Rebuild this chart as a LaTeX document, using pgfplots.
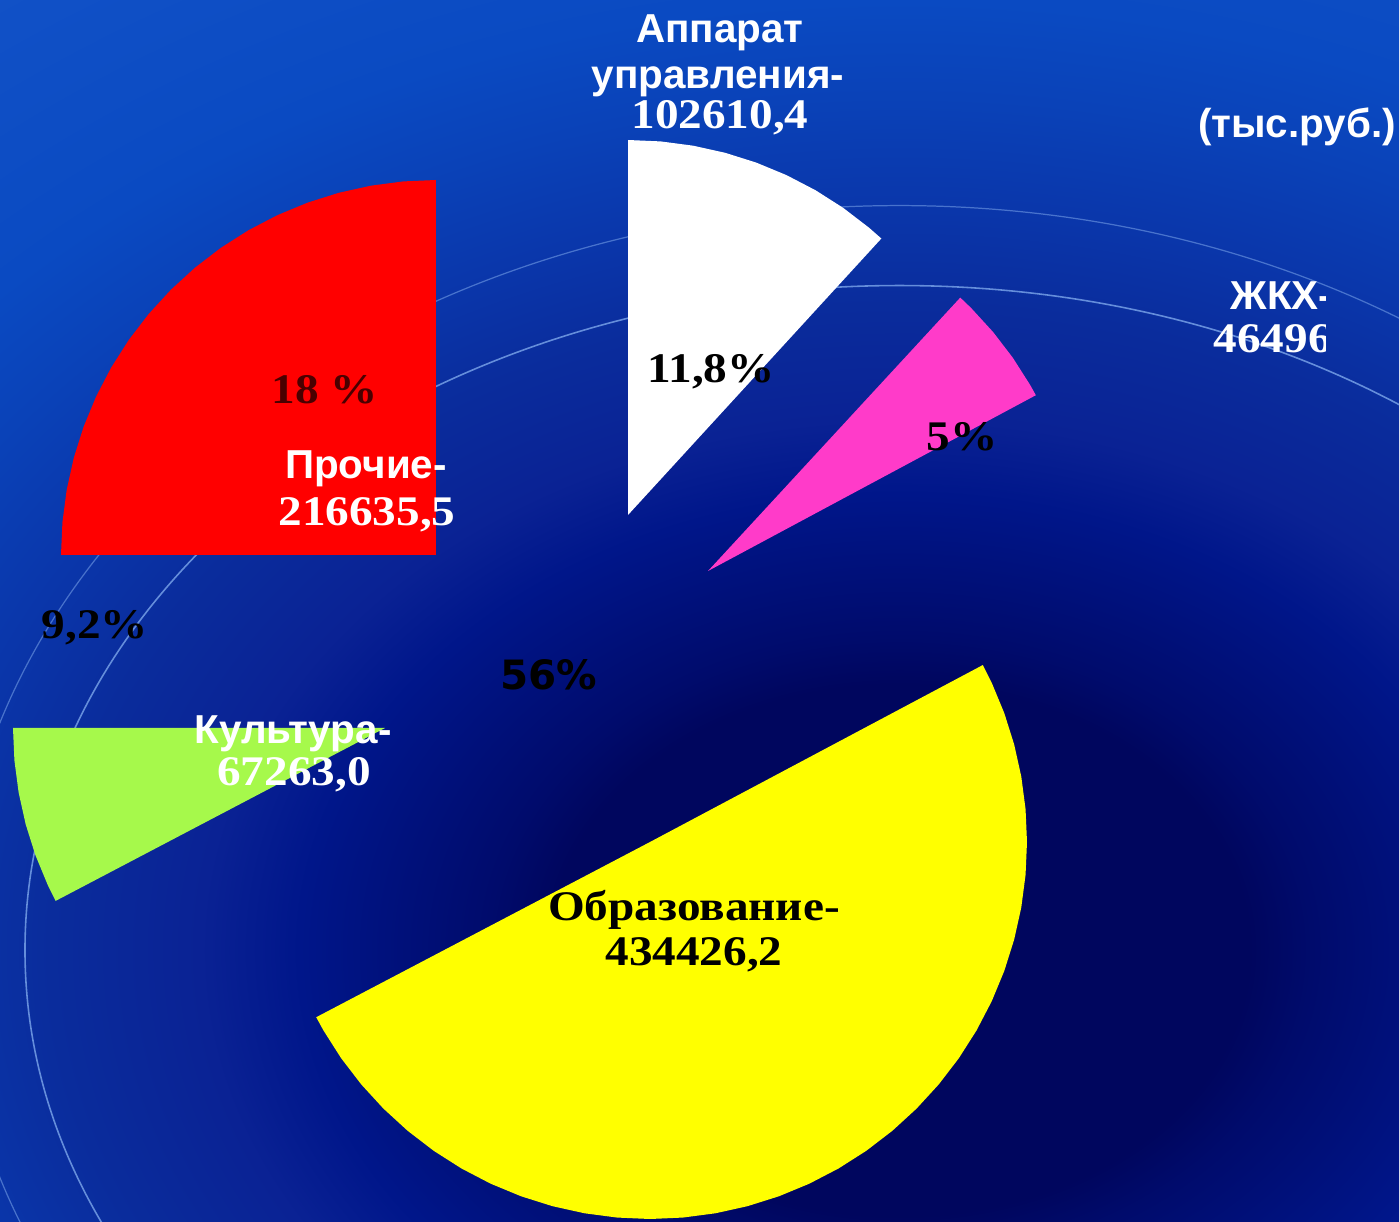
\documentclass[border=0pt]{standalone}
\usepackage{pgfplots}
\pgfplotsset{compat=1.18}
\usepgfplotslibrary{polar}
\usepackage{fontspec}
\setmainfont{Liberation Sans}
\newfontfamily\lsans{Liberation Sans}
\newfontfamily\dsans{DejaVu Sans}
\newfontfamily\lserif[FakeStretch=1.12]{Liberation Serif}

\definecolor{b0}{HTML}{00065E}
\definecolor{b1}{HTML}{000B6C}
\definecolor{b2}{HTML}{00168A}
\definecolor{b3}{HTML}{0A2294}
\definecolor{b4}{HTML}{0A2C9C}
\definecolor{b5}{HTML}{0A36AA}
\definecolor{b6}{HTML}{0A42B8}
\definecolor{b7}{HTML}{0A4AC2}
\definecolor{b8}{HTML}{1656CA}
\definecolor{pieYellow}{HTML}{FFFF00}
\definecolor{piePink}{HTML}{FF3BC9}
\definecolor{pieWhite}{HTML}{FFFFFF}
\definecolor{pieRed}{HTML}{FF0000}
\definecolor{pieGreen}{HTML}{A6F94B}
\definecolor{darkred}{HTML}{4A0000}
\definecolor{thinline}{HTML}{7CA6EA}

\pgfdeclareradialshading{bgshade}{\pgfpoint{0bp}{0bp}}{%
 color(0bp)=(b0); color(7bp)=(b0); color(8.25bp)=(b1); color(12bp)=(b2);
 color(14bp)=(b3); color(17bp)=(b4); color(19.5bp)=(b5); color(22.5bp)=(b6);
 color(25bp)=(b7); color(35.25bp)=(b8); color(71bp)=(b8)}

\tikzset{
 sanslab/.style={font=\fontsize{11.5}{13}\selectfont\lsans\bfseries, inner sep=0pt, anchor=base},
 seriflab/.style={font=\fontsize{12}{14}\selectfont\lserif\bfseries, inner sep=0pt, anchor=base},
}
\pgfplotsset{slice/.style={anchor=origin, width=7.5cm, height=7.5cm, scale only axis,
   xmin=0, xmax=360, ymin=0, ymax=1, hide axis, clip=false}}

\begin{document}
\begin{tikzpicture}
\useasboundingbox (0,0) rectangle (14cm,12.21cm);
% background
\begin{scope}[x=0.01cm,y=0.01cm]
 \clip (0,0) rectangle (1400,1221);
 \shade[shading=bgshade] (-350,-679) rectangle (2150,1221);
 \draw[thinline, line width=0.45pt, opacity=0.8] (900,271) ellipse [x radius=875, y radius=665];
 \draw[thinline, line width=0.35pt, opacity=0.55] (900,271) ellipse [x radius=945, y radius=745];
\end{scope}

% Образование
\begin{polaraxis}[slice, at={(6.50cm,3.79cm)}, width=7.54cm, height=7.54cm]
\addplot[draw=none, fill=pieYellow] coordinates {(0,0) (207.7,1) (210,1) (215,1) (220,1) (225,1) (230,1) (235,1) (240,1) (245,1) (250,1) (255,1) (260,1) (265,1) (270,1) (275,1) (280,1) (285,1) (290,1) (295,1) (300,1) (305,1) (310,1) (315,1) (320,1) (325,1) (330,1) (335,1) (340,1) (345,1) (350,1) (355,1) (360,1) (365,1) (370,1) (375,1) (380,1) (385,1) (388,1) (0,0)};
\end{polaraxis}
% ЖКХ
\begin{polaraxis}[slice, at={(7.08cm,6.50cm)}, width=7.44cm, height=7.44cm]
\addplot[draw=none, fill=piePink] coordinates {(0,0) (28.2,1) (30,1) (35,1) (40,1) (45,1) (47.3,1) (0,0)};
\end{polaraxis}
% Аппарат управления
\begin{polaraxis}[slice, at={(6.28cm,7.06cm)}]
\addplot[draw=none, fill=pieWhite] coordinates {(0,0) (47.5,1) (50,1) (55,1) (60,1) (65,1) (70,1) (75,1) (80,1) (85,1) (90,1) (0,0)};
\end{polaraxis}
% Прочие
\begin{polaraxis}[slice, at={(4.36cm,6.66cm)}]
\addplot[draw=none, fill=pieRed] coordinates {(0,0) (90,1) (95,1) (100,1) (105,1) (110,1) (115,1) (120,1) (125,1) (130,1) (135,1) (140,1) (145,1) (150,1) (155,1) (160,1) (165,1) (170,1) (175,1) (180,1) (0,0)};
\end{polaraxis}
% Культура
\begin{polaraxis}[slice, at={(3.85cm,4.93cm)}, width=7.44cm, height=7.44cm]
\addplot[draw=none, fill=pieGreen] coordinates {(0,0) (180,1) (185,1) (190,1) (195,1) (200,1) (205,1) (207.7,1) (0,0)};
\end{polaraxis}

% labels
\begin{axis}[at={(0,0)}, anchor=south west, width=14cm, height=12.21cm, scale only axis,
  xmin=0, xmax=1400, ymin=0, ymax=1221, y dir=reverse, hide axis, clip=false]
\node[sanslab, white] at (axis cs:720,42) {Аппарат};
\node[sanslab, white] at (axis cs:718,88) {управления-};
\node[seriflab, white] at (axis cs:720,128) {102610,4};
\node[sanslab, white] at (axis cs:1297,137) {(тыс.руб.)};
\node[seriflab, black] at (axis cs:711,382) {11,8\%};
\node[seriflab, black] at (axis cs:962,450) {5\%};
\node[seriflab, darkred] at (axis cs:325,403) {18 \%};
\node[sanslab, white] at (axis cs:366,478) {Прочие-};
\node[seriflab, white] at (axis cs:367,525) {216635,5};
\node[seriflab, black] at (axis cs:95,638) {9,2\%};
\node[font=\fontsize{11.5}{13}\selectfont\dsans\bfseries, inner sep=0pt, anchor=base, black] at (axis cs:549,689) {56\%};
\node[sanslab, white] at (axis cs:293,743) {Культура-};
\node[seriflab, white] at (axis cs:294,785) {67263,0};
\node[seriflab, black] at (axis cs:694,920) {Образование-};
\node[seriflab, black] at (axis cs:694,965) {434426,2};
\end{axis}
\begin{scope}
 \clip (0,0) rectangle (13.25cm,12.21cm);
 \node[sanslab, white, anchor=base west] at (12.30cm,9.11cm) {ЖКХ-};
 \node[seriflab, white, anchor=base west] at (12.13cm,8.68cm) {46496};
\end{scope}
\end{tikzpicture}
\end{document}
